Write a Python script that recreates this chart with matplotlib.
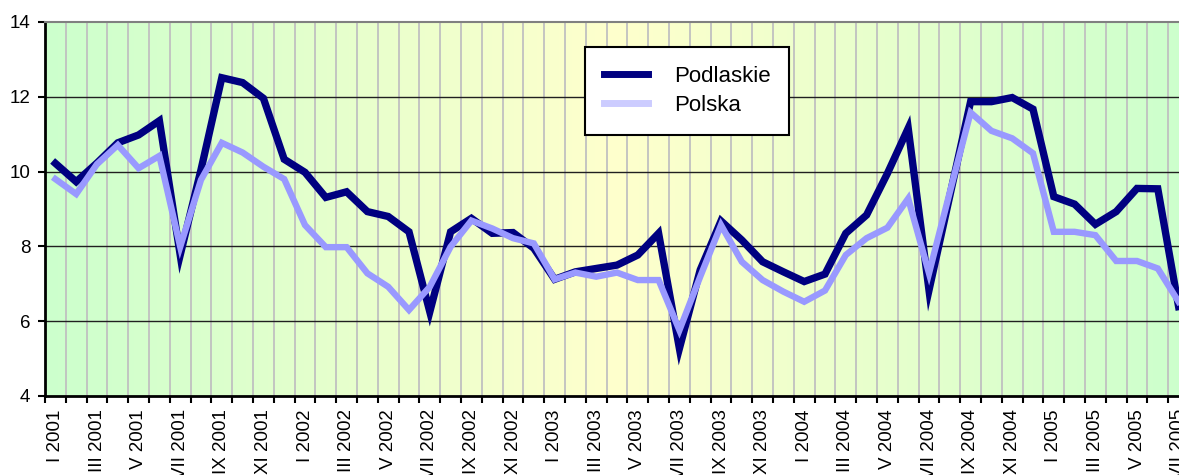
import numpy as np
import matplotlib
matplotlib.use("Agg")
import matplotlib.pyplot as plt
from matplotlib.colors import LinearSegmentedColormap
from matplotlib.lines import Line2D

plt.rcParams['font.family'] = ['Liberation Sans', 'DejaVu Sans']

# miesiace I 2001 .. VII 2005
months = ['I', 'II', 'III', 'IV', 'V', 'VI', 'VII', 'VIII', 'IX', 'X', 'XI', 'XII']
years = [2001, 2002, 2003, 2004, 2005]

podlaskie = [10.22, 9.73, 10.23, 10.77, 10.98, 11.36, 7.77, 10.05, 12.51, 12.38, 11.96, 10.33,
             9.98, 9.31, 9.46, 8.93, 8.80, 8.39, 6.25, 8.39, 8.75, 8.35, 8.37, 7.95,
             7.12, 7.32, 7.41, 7.50, 7.77, 8.35, 5.27, 7.37, 8.68, 8.17, 7.59, 7.32,
             7.06, 7.26, 8.35, 8.84, 9.95, 11.16, 6.83, 9.35, 11.87, 11.87, 11.98, 11.67,
             9.33, 9.13, 8.59, 8.93, 9.55, 9.54, 6.39]
polska = [9.80, 9.40, 10.20, 10.71, 10.09, 10.42, 7.99, 9.78, 10.77, 10.51, 10.13, 9.80,
          8.57, 7.98, 7.98, 7.28, 6.92, 6.30, 6.92, 7.99, 8.69, 8.48, 8.22, 8.08,
          7.12, 7.30, 7.19, 7.30, 7.10, 7.10, 5.76, 7.19, 8.57, 7.59, 7.10, 6.79,
          6.52, 6.82, 7.77, 8.22, 8.50, 9.28, 7.28, 9.45, 11.58, 11.09, 10.89, 10.49,
          8.39, 8.39, 8.30, 7.61, 7.61, 7.41, 6.52]

labels = [f"{m} {y}" for y in years for m in months][:len(podlaskie)]
x = np.arange(len(podlaskie))

fig = plt.figure(figsize=(11.79, 4.75), dpi=100)
ax = fig.add_axes([45 / 1179, 1 - 396 / 475, 1144 / 1179, 374 / 475])

# tlo - gradient zielony/zolty/zielony
cmap = LinearSegmentedColormap.from_list('bg', ['#ccffcc', '#ffffcc', '#ccffcc'])
ax.imshow(np.linspace(0, 1, 256).reshape(1, -1), cmap=cmap, aspect='auto',
          extent=(-0.5, len(x) - 0.5, 4, 14), zorder=0)

for xb in np.arange(-0.5, len(x), 1.0):
    ax.axvline(xb, color='#c0c0c0', lw=1.3, zorder=0.5)
for yv in [6, 8, 10, 12]:
    ax.axhline(yv, color='#202020', lw=1.0, zorder=0.6)

ax.plot(x, podlaskie, color='#000080', lw=5.3, solid_joinstyle='miter', zorder=2)
ax.plot(x, polska, color='#9999ff', lw=4.6, solid_joinstyle='miter', zorder=3)

ax.set_xlim(-0.5, len(x) - 0.5)
ax.set_ylim(4, 14)
ax.set_yticks([4, 6, 8, 10, 12, 14])
ax.tick_params(axis='y', direction='out', length=5, width=1.5, labelsize=13.5, pad=5.5)

ax.set_xticks(np.arange(-0.5, len(x), 1.0))
ax.set_xticklabels([])
ax.tick_params(axis='x', which='major', direction='out', length=5, width=1.5)
ax.set_xticks(x[::2], minor=True)
ax.set_xticklabels(labels[::2], minor=True, rotation=90, va='top', ha='center', fontsize=13.5)
ax.tick_params(axis='x', which='minor', length=0, pad=9.5)

ax.spines['left'].set_linewidth(2)
ax.spines['bottom'].set_linewidth(2)
ax.spines['top'].set_color('#808080')
ax.spines['top'].set_linewidth(1.5)
ax.spines['right'].set_visible(False)

handles = [Line2D([], [], color='#000080', lw=5), Line2D([], [], color='#ccccff', lw=5)]
leg = fig.legend(handles, ['Podlaskie', 'Polska'], loc='upper left',
                 bbox_to_anchor=(585 / 1179, 1 - 47 / 475), fontsize=16,
                 frameon=True, fancybox=False, borderpad=0.85, handlelength=2.0,
                 handletextpad=1.15, labelspacing=0.35, borderaxespad=0)
leg.get_frame().set_edgecolor('black')
leg.get_frame().set_linewidth(1.5)
leg.get_frame().set_facecolor('white')
leg.get_frame().set_alpha(1)

fig.savefig('out.png', dpi=100)
